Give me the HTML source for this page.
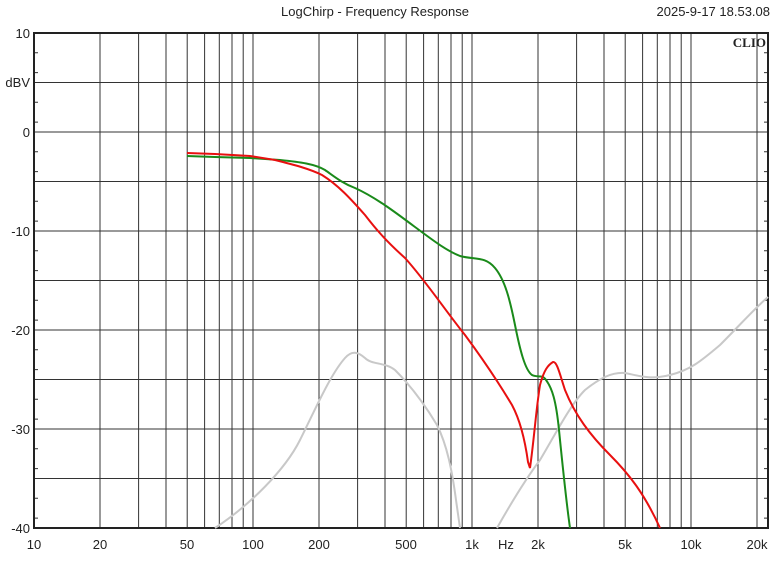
<!DOCTYPE html>
<html><head><style>
body{margin:0;background:#fff;}
svg text{font-family:"Liberation Sans",sans-serif;font-size:13px;fill:#222;}
</style></head><body>
<svg width="778" height="557" xmlns="http://www.w3.org/2000/svg">
<rect width="778" height="557" fill="#fff"/>
<text x="375" y="16" text-anchor="middle">LogChirp - Frequency Response</text>
<text x="770" y="16" text-anchor="end">2025-9-17 18.53.08</text>
<g stroke="#333" stroke-width="1">
<line x1="100" y1="33" x2="100" y2="528"/><line x1="138.6" y1="33" x2="138.6" y2="528"/><line x1="166" y1="33" x2="166" y2="528"/><line x1="187.2" y1="33" x2="187.2" y2="528"/><line x1="204.6" y1="33" x2="204.6" y2="528"/><line x1="219.3" y1="33" x2="219.3" y2="528"/><line x1="232" y1="33" x2="232" y2="528"/><line x1="243.2" y1="33" x2="243.2" y2="528"/><line x1="253" y1="33" x2="253" y2="528"/>
<line x1="319" y1="33" x2="319" y2="528"/><line x1="357.6" y1="33" x2="357.6" y2="528"/><line x1="385" y1="33" x2="385" y2="528"/><line x1="406.2" y1="33" x2="406.2" y2="528"/><line x1="423.6" y1="33" x2="423.6" y2="528"/><line x1="438.3" y1="33" x2="438.3" y2="528"/><line x1="451" y1="33" x2="451" y2="528"/><line x1="462.2" y1="33" x2="462.2" y2="528"/><line x1="472" y1="33" x2="472" y2="528"/>
<line x1="538" y1="33" x2="538" y2="528"/><line x1="576.6" y1="33" x2="576.6" y2="528"/><line x1="604" y1="33" x2="604" y2="528"/><line x1="625.2" y1="33" x2="625.2" y2="528"/><line x1="642.6" y1="33" x2="642.6" y2="528"/><line x1="657.3" y1="33" x2="657.3" y2="528"/><line x1="670" y1="33" x2="670" y2="528"/><line x1="681.2" y1="33" x2="681.2" y2="528"/><line x1="691" y1="33" x2="691" y2="528"/><line x1="757" y1="33" x2="757" y2="528"/>
<line x1="34" y1="82.5" x2="768" y2="82.5"/><line x1="34" y1="132" x2="768" y2="132"/><line x1="34" y1="181.5" x2="768" y2="181.5"/><line x1="34" y1="231" x2="768" y2="231"/><line x1="34" y1="280.5" x2="768" y2="280.5"/><line x1="34" y1="330" x2="768" y2="330"/><line x1="34" y1="379.5" x2="768" y2="379.5"/><line x1="34" y1="429" x2="768" y2="429"/><line x1="34" y1="478.5" x2="768" y2="478.5"/>
</g>
<g stroke="#333" stroke-width="1">
<path d="M34 52.8h4M34 72.6h4M34 102.3h4M34 122.1h4M34 151.8h4M34 171.6h4M34 201.3h4M34 221.1h4M34 250.8h4M34 270.6h4M34 300.3h4M34 320.1h4M34 349.8h4M34 369.6h4M34 399.3h4M34 419.1h4M34 448.8h4M34 468.6h4M34 498.3h4M34 518.1h4"/>
<path d="M768 52.8h-4M768 72.6h-4M768 102.3h-4M768 122.1h-4M768 151.8h-4M768 171.6h-4M768 201.3h-4M768 221.1h-4M768 250.8h-4M768 270.6h-4M768 300.3h-4M768 320.1h-4M768 349.8h-4M768 369.6h-4M768 399.3h-4M768 419.1h-4M768 448.8h-4M768 468.6h-4M768 498.3h-4M768 518.1h-4"/>
</g>
<rect x="34" y="33" width="734" height="495" fill="none" stroke="#222" stroke-width="2"/>
<text x="766" y="47" text-anchor="end" style="font-family:'Liberation Serif',serif;font-weight:bold;font-size:13px">CLIO</text>
<g text-anchor="end">
<text x="30" y="38">10</text><text x="30" y="87">dBV</text><text x="30" y="137">0</text><text x="30" y="236">-10</text><text x="30" y="335">-20</text><text x="30" y="434">-30</text><text x="30" y="533">-40</text>
</g>
<g text-anchor="middle">
<text x="34" y="549">10</text><text x="100" y="549">20</text><text x="187" y="549">50</text><text x="253" y="549">100</text><text x="319" y="549">200</text><text x="406" y="549">500</text><text x="472" y="549">1k</text><text x="506" y="549">Hz</text><text x="538" y="549">2k</text><text x="625" y="549">5k</text><text x="691" y="549">10k</text><text x="757" y="549">20k</text>
</g>
<g fill="none" stroke-width="2">
<path stroke="#c8c8c8" d="M215 528 C250 505 285 470 300 440 C315 410 330 375 345 358 C352 350 358 352 365 358 C372 365 385 362 395 370 C410 385 425 405 437 425 C447 445 452 470 456 500 L460 528"/>
<path stroke="#c8c8c8" d="M497 528 C510 505 525 480 540 460 C555 435 570 405 585 390 C600 378 612 372 625 373 C640 376 650 380 670 375 C690 370 700 362 720 345 C740 325 755 308 768 297"/>
<path stroke="#1a8a1a" d="M187 156 L215 157 L250 158 L280 160 C300 162 315 164 325 170 C335 177 342 183 355 188 C375 197 395 212 415 227 C430 238 445 250 460 256 C475 260 485 256 495 268 C505 280 510 300 515 325 C520 350 525 370 532 375 C538 378 542 374 546 380 C552 388 556 400 559 430 C563 470 566 500 570 528"/>
<path stroke="#e81010" d="M187 153 L215 154 L250 156 L275 160 C295 165 310 169 322 175 C338 185 350 198 365 215 C375 228 385 240 405 258 C425 280 445 310 465 335 C485 362 500 385 512 405 C520 420 525 440 528 462 L530 468 C534 440 536 410 540 385 C544 370 548 365 553 362 C557 361 560 375 565 390 C575 415 590 435 610 455 C630 475 645 495 660 528"/>
</g>
</svg>
</body></html>
